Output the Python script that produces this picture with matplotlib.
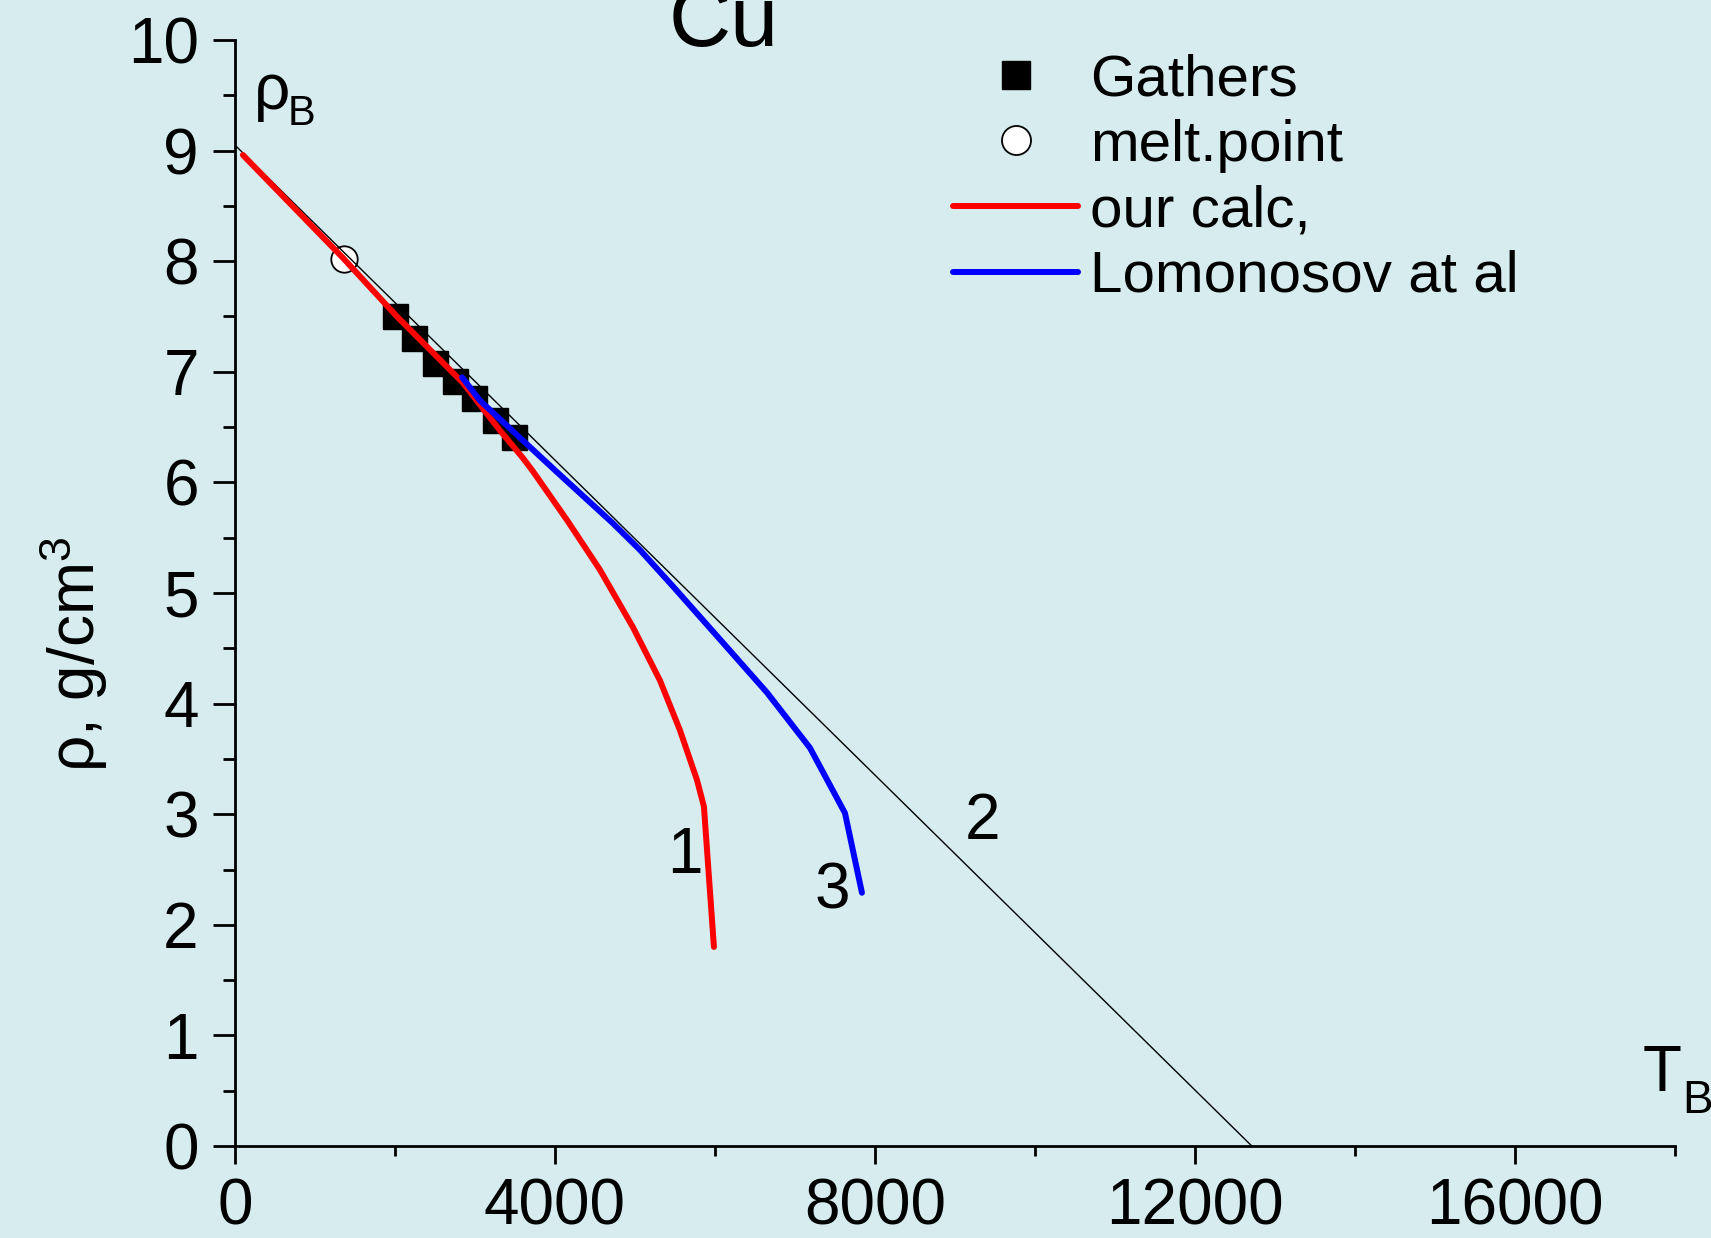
import numpy as np
import matplotlib
matplotlib.use("Agg")
import matplotlib.pyplot as plt
from matplotlib import font_manager
from matplotlib.ticker import MultipleLocator

# ---------------------------------------------------------------------------
# Data (T in K, rho in g/cm^3)
# ---------------------------------------------------------------------------

gathers_T   = [2000, 2237, 2500, 2750, 2990, 3250, 3490]
gathers_rho = [7.50, 7.31, 7.08, 6.92, 6.76, 6.56, 6.41]

melt_T   = [1362]
melt_rho = [8.02]

# curve 1: our calc
calc_T   = [100, 1350, 2025, 2850, 3312, 3600, 3725, 4150, 4562, 4975,
            5312, 5562, 5775, 5862, 5987]
calc_rho = [8.96, 8.03, 7.50, 6.90, 6.47, 6.22, 6.10, 5.66, 5.21, 4.69,
            4.21, 3.76, 3.31, 3.07, 1.80]

# curve 2: straight line (rectilinear diameter)
line_T   = [0, 12710]
line_rho = [9.05, 0.0]

# curve 3: Lomonosov et al
lom_T   = [2840, 3062, 4000, 4725, 5062, 5500, 6100, 6650, 7187, 7625, 7837]
lom_rho = [6.95, 6.74, 6.11, 5.63, 5.39, 5.04, 4.55, 4.10, 3.60, 3.01, 2.29]

# curve labels: (text, T, rho)
curve_labels = [("1", 5630, 2.47), ("2", 9340, 2.78), ("3", 7470, 2.15)]


def pick_font():
    for name in ["Liberation Sans Narrow", "Liberation Sans", "Arial"]:
        try:
            font_manager.findfont(name, fallback_to_default=False)
            return name
        except Exception:
            pass
    return "DejaVu Sans"


font = pick_font()
plt.rcParams['font.family'] = [font, 'DejaVu Sans']
plt.rcParams['mathtext.fontset'] = 'custom'
plt.rcParams['mathtext.rm'] = font
plt.rcParams['mathtext.it'] = font + ':italic'
plt.rcParams['mathtext.bf'] = font + ':bold'

bg = '#D7ECEF'
fs = 46

fig = plt.figure(figsize=(17.11, 12.38), dpi=100, facecolor=bg)
ax = fig.add_axes([0.1373, 0.0743, 0.8417, 0.8934], facecolor=bg)

ax.plot(gathers_T, gathers_rho, 's', color='black', markersize=18,
        label='Gathers', zorder=3)
ax.plot(melt_T, melt_rho, 'o', markerfacecolor='white', markeredgecolor='black',
        markeredgewidth=1.3, markersize=19, label='melt.point', zorder=3)
ax.plot(line_T, line_rho, '-', color='black', linewidth=1.0, zorder=4)
ax.plot(calc_T, calc_rho, '-', color='#FF0000', linewidth=4.3,
        solid_capstyle='round', label='our calc,', zorder=5)
ax.plot(lom_T, lom_rho, '-', color='#0000FF', linewidth=4.3,
        solid_capstyle='round', label='Lomonosov at al', zorder=5)

for txt, t, r in curve_labels:
    ax.text(t, r, txt, fontsize=fs, ha='center', va='baseline')

# axis symbols with subscripts
ax.text(240, 9.38, 'ρ', fontsize=fs, ha='left', va='baseline')
ax.text(660, 9.23, 'B', fontsize=30, ha='left', va='baseline')
ax.text(17590, 0.50, 'T', fontsize=fs, ha='left', va='baseline', clip_on=False)
ax.text(18085, 0.30, 'B', fontsize=33, ha='left', va='baseline', clip_on=False)

ax.set_xlim(0, 18000)
ax.set_ylim(0, 10)
ax.xaxis.set_major_locator(MultipleLocator(4000))
ax.xaxis.set_minor_locator(MultipleLocator(2000))
ax.yaxis.set_major_locator(MultipleLocator(1))
ax.yaxis.set_minor_locator(MultipleLocator(0.5))

for side in ['top', 'right']:
    ax.spines[side].set_visible(False)
for side in ['left', 'bottom']:
    ax.spines[side].set_linewidth(2.0)

ax.tick_params(axis='y', which='major', length=16, width=2, direction='out',
               labelsize=fs, pad=10)
ax.tick_params(axis='y', which='minor', length=8.5, width=2, direction='out')
ax.tick_params(axis='x', which='major', length=13, width=2, direction='out',
               labelsize=fs, pad=10)
ax.tick_params(axis='x', which='minor', length=7, width=2, direction='out')

ax.set_ylabel('ρ, g/cm$^3$', fontsize=fs)
ax.yaxis.set_label_coords(-0.087, 0.445)

fig.text(724 / 1711, 1 - 46 / 1238, 'Cu', fontsize=62, ha='center',
         va='baseline')

ax.legend(loc='upper left', bbox_to_anchor=(953 / 1711, 1 - 53 / 1238),
          bbox_transform=fig.transFigure, frameon=False, fontsize=42,
          handlelength=2.15, handletextpad=0.2, labelspacing=0.2,
          borderpad=0, borderaxespad=0, numpoints=1, markerscale=1.1)

fig.savefig('out.png', dpi=100, facecolor=bg)
